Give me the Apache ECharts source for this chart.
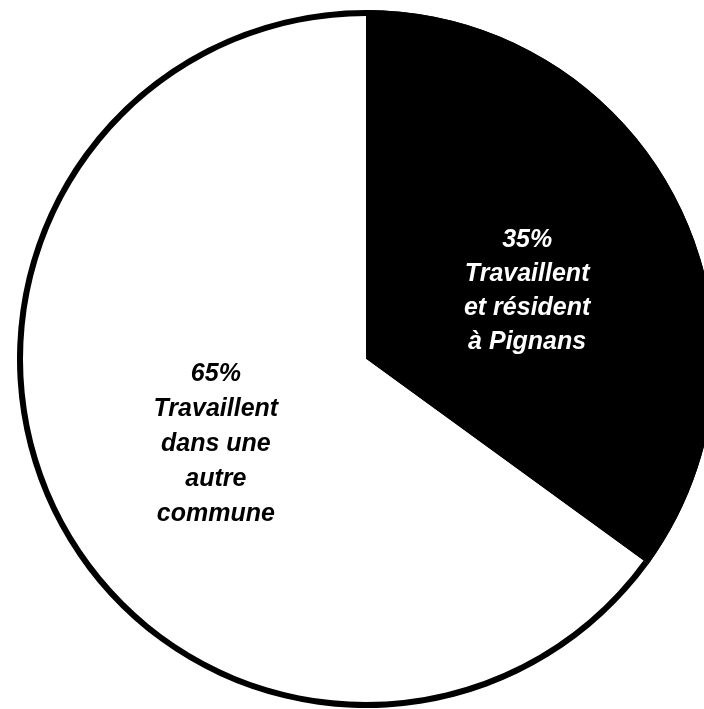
<!DOCTYPE html>
<html>
<head>
<meta charset="utf-8">
<script src="https://cdn.jsdelivr.net/npm/echarts@6/dist/echarts.min.js"></script>
<style>
html,body{margin:0;padding:0;background:#fff;}
#chart{width:704px;height:709px;}
</style>
</head>
<body>
<div id="chart"></div>
<script>
// Where the working residents of Pignans work
const categories = ['Travaillent et résident à Pignans', 'Travaillent dans une autre commune'];
const shares = [35, 65];
const labelTexts = [
  '35%\nTravaillent\net résident\nà Pignans',
  '65%\nTravaillent\ndans une\nautre\ncommune'
];
const sliceColors = ['#000000', '#ffffff'];

const chart = echarts.init(document.getElementById('chart'));

const center = [366, 359];
const R = 349;

chart.setOption({
  backgroundColor: '#ffffff',
  animation: false,
  series: [
    {
      type: 'pie',
      center: center,
      radius: [0, R],
      startAngle: 90,
      clockwise: true,
      silent: true,
      data: categories.map((name, i) => ({
        name: name,
        value: shares[i],
        itemStyle: { color: sliceColors[i] },
        label: {
          formatter: labelTexts[i],
          color: i === 0 ? '#ffffff' : '#000000',
          lineHeight: i === 0 ? 34 : 35,
          padding: i === 0 ? [0, 0, 0, 6] : [0, 0, 0, 16],
          offset: i === 0 ? [0, 13] : [0, 5]
        }
      })),
      label: {
        show: true,
        position: 'inside',
        fontFamily: 'Liberation Sans, Arial, sans-serif',
        fontStyle: 'italic',
        fontWeight: 'bold',
        fontSize: 25,
        align: 'center'
      },
      labelLine: { show: false }
    },
    {
      // outer rim of the pie
      type: 'pie',
      center: center,
      radius: [R - 6, R],
      startAngle: 90,
      silent: true,
      data: categories.map((name, i) => ({ name: name, value: shares[i] })),
      itemStyle: { color: '#000000' },
      label: { show: false },
      labelLine: { show: false }
    }
  ]
});
</script>
</body>
</html>
